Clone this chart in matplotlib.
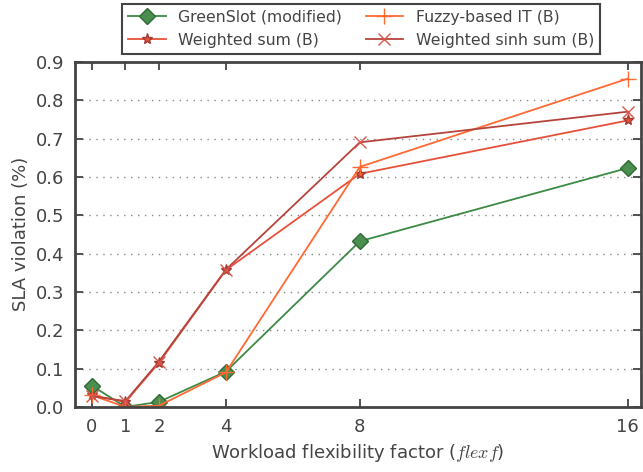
import numpy as np
import matplotlib.pyplot as plt

flexf = [0, 1, 2, 4, 8, 16]
greenslot = [0.055, 0.0, 0.013, 0.092, 0.432, 0.623]
fuzzy_it = [0.030, 0.0, 0.003, 0.090, 0.626, 0.856]
wsum = [0.030, 0.013, 0.115, 0.357, 0.608, 0.747]
wsinh = [0.028, 0.015, 0.118, 0.358, 0.690, 0.770]

txt = '#444444'
plt.rcParams['text.color'] = txt
plt.rcParams['axes.labelcolor'] = txt
plt.rcParams['xtick.color'] = txt
plt.rcParams['ytick.color'] = txt
plt.rcParams['mathtext.fontset'] = 'cm'

fig = plt.figure(figsize=(6.43, 4.72), dpi=100)
ax = fig.add_axes([0.117, 0.138, 0.88, 0.731])

ax.plot(flexf, greenslot, color='#3d8a45', marker='D', ms=8, mec='#2e6b34', mfc='#4a8f50', lw=1.3, label='GreenSlot (modified)')
ax.plot(flexf, wsum, color='#e8503a', marker='*', ms=8, mec='#a23a33', mfc='#e8503a', lw=1.3, label='Weighted sum (B)')
ax.plot(flexf, fuzzy_it, color='#ff6a33', marker='+', ms=12, mew=1, lw=1.3, label='Fuzzy-based IT (B)')
ax.plot(flexf, wsinh, color='#b5443c', marker='x', ms=9, mew=1, mec='#d9564a', lw=1.3, label='Weighted sinh sum (B)')

ax.set_xlim(-0.5, 16.4)
ax.set_ylim(0, 0.9)
ax.set_xticks(flexf)
ax.set_yticks(np.arange(0, 0.91, 0.1))
ax.set_yticklabels(['%.1f' % v for v in np.arange(0, 0.91, 0.1)])
ax.yaxis.grid(True, linestyle=(0, (1, 4)), color='#888888', lw=1)
ax.tick_params(direction='in', length=6, width=1.3, labelsize=13, top=True, right=True, pad=8)
for s in ax.spines.values():
    s.set_color('#444444')
    s.set_linewidth(2)

ax.set_xlabel('Workload flexibility factor ($flexf$)', fontsize=13)
ax.set_ylabel('SLA violation (%)', fontsize=13)

leg = ax.legend(ncol=2, loc='lower center', bbox_to_anchor=(0.505, 1.0), fontsize=11.3,
                fancybox=False, edgecolor='#444444', framealpha=1, columnspacing=1.5, handlelength=2.4,
                borderpad=0.4, labelspacing=0.5)
leg.get_frame().set_linewidth(1.5)

fig.savefig('out.png', dpi=100)
